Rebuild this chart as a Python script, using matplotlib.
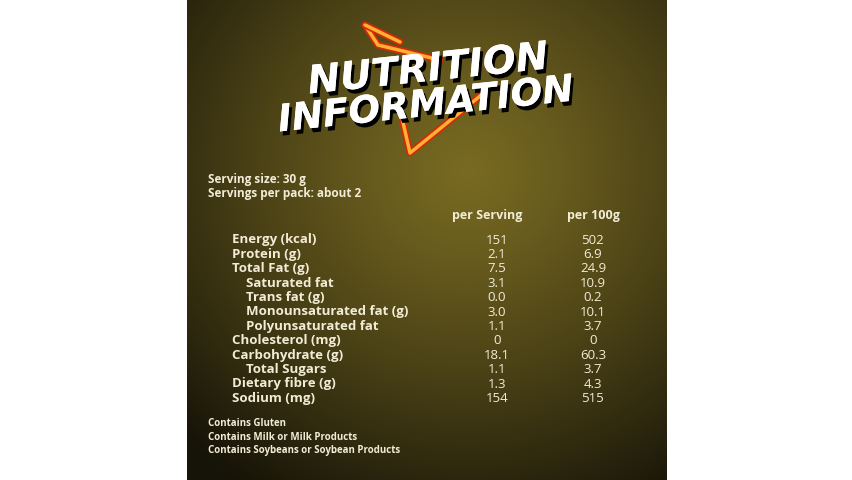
import matplotlib
matplotlib.use("Agg")
import matplotlib.pyplot as plt
import numpy as np
import matplotlib.patheffects as pe

nutrients = ["Energy (kcal)", "Protein (g)", "Total Fat (g)", "Saturated fat", "Trans fat (g)",
             "Monounsaturated fat (g)", "Polyunsaturated fat", "Cholesterol (mg)",
             "Carbohydrate (g)", "Total Sugars", "Dietary fibre (g)", "Sodium (mg)"]
indented = [False, False, False, True, True, True, True, False, False, True, False, False]
per_serving = ["151", "2.1", "7.5", "3.1", "0.0", "3.0", "1.1", "0", "18.1", "1.1", "1.3", "154"]
per_100g = ["502", "6.9", "24.9", "10.9", "0.2", "10.1", "3.7", "0", "60.3", "3.7", "4.3", "515"]
headers = ["per Serving", "per 100g"]
serving_lines = ["Serving size: 30 g", "Servings per pack: about 2"]
footnotes = ["Contains Gluten", "Contains Milk or Milk Products", "Contains Soybeans or Soybean Products"]

fig = plt.figure(figsize=(8.53, 4.8), dpi=100)
ax = fig.add_axes([0, 0, 1, 1])
ax.set_xlim(0, 853); ax.set_ylim(480, 0); ax.axis("off")

yy, xx = np.mgrid[0:480, 0:480]
r = np.sqrt(((xx - 280) / 400) ** 2 + ((yy - 170) / 380) ** 2)
c1 = np.array([0x78, 0x6a, 0x22]) / 255
c2 = np.array([0x16, 0x13, 0x08]) / 255
t = np.clip(r, 0, 1)[..., None] ** 1.2
img = c1 * (1 - t) + c2 * t
ax.imshow(img, extent=[187, 667, 480, 0], zorder=0, aspect="auto")

col = "#f2ecd6"
fp = dict(family="Open Sans", weight="bold", color=col)

ck = dict(color="#ffb030", lw=2.5, solid_capstyle="round", zorder=2,
          path_effects=[pe.Stroke(linewidth=5, foreground="#d02a0a"), pe.Normal()])
ax.plot([365, 378, 440], [25, 45, 60], **ck)
ax.plot([365, 400], [25, 42], **ck)
ax.plot([402, 410, 490], [118, 153, 88], **ck)

shadow = [pe.withSimplePatchShadow(offset=(2, -3), shadow_rgbFace="black", alpha=1), pe.Normal()]
ax.text(428, 70, "NUTRITION", ha="center", va="center", fontsize=28, fontstyle="italic",
        family="DejaVu Sans", weight="heavy", color="white", rotation=6, path_effects=shadow, zorder=3)
ax.text(426, 106, "INFORMATION", ha="center", va="center", fontsize=27, fontstyle="italic",
        family="DejaVu Sans", weight="heavy", color="white", rotation=6, path_effects=shadow, zorder=3)

for i, s in enumerate(serving_lines):
    ax.text(208, 180 + 13.5 * i, s, ha="left", va="center", fontsize=8.5, **fp)

ax.text(487, 215, headers[0], ha="center", va="center", fontsize=9, **fp)
ax.text(593, 215, headers[1], ha="center", va="center", fontsize=9, **fp)

for i, (n, ind, a, b) in enumerate(zip(nutrients, indented, per_serving, per_100g)):
    y = 240 + 14.4 * i
    ax.text(246 if ind else 232, y, n, ha="left", va="center", fontsize=9.5, **fp)
    ax.text(497, y, a, ha="center", va="center", fontsize=9.5, family="Open Sans", weight="medium", color=col)
    ax.text(593, y, b, ha="center", va="center", fontsize=9.5, family="Open Sans", weight="medium", color=col)

for i, s in enumerate(footnotes):
    ax.text(208, 424 + 13 * i, s, ha="left", va="center", fontsize=7, **fp)

fig.savefig("out.png", dpi=100)
